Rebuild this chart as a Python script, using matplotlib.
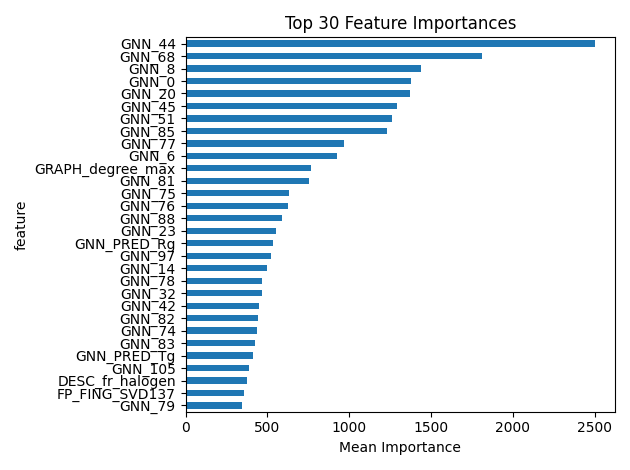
import matplotlib
matplotlib.use("Agg")
import matplotlib.pyplot as plt
import pandas as pd

features = ["GNN_44", "GNN_68", "GNN_8", "GNN_0", "GNN_20", "GNN_45", "GNN_51", "GNN_85",
            "GNN_77", "GNN_6", "GRAPH_degree_max", "GNN_81", "GNN_75", "GNN_76", "GNN_88",
            "GNN_23", "GNN_PRED_Rg", "GNN_97", "GNN_14", "GNN_78", "GNN_32", "GNN_42",
            "GNN_82", "GNN_74", "GNN_83", "GNN_PRED_Tg", "GNN_105", "DESC_fr_halogen",
            "FP_FING_SVD137", "GNN_79"]
importance = [2500, 1815, 1440, 1380, 1375, 1290, 1260, 1230, 970, 925, 765, 755, 635, 625,
              590, 555, 535, 520, 495, 470, 465, 450, 445, 435, 425, 410, 385, 375, 360, 345]

df = pd.DataFrame({"feature": features, "Mean Importance": importance}).set_index("feature")

fig, ax = plt.subplots(figsize=(6.3, 4.7), dpi=100)
df["Mean Importance"].iloc[::-1].plot(kind="barh", ax=ax, color="#1f77b4")
ax.set_title("Top 30 Feature Importances")
ax.set_xlabel("Mean Importance")
ax.set_ylabel("feature")
fig.tight_layout()
fig.savefig("out.png")
